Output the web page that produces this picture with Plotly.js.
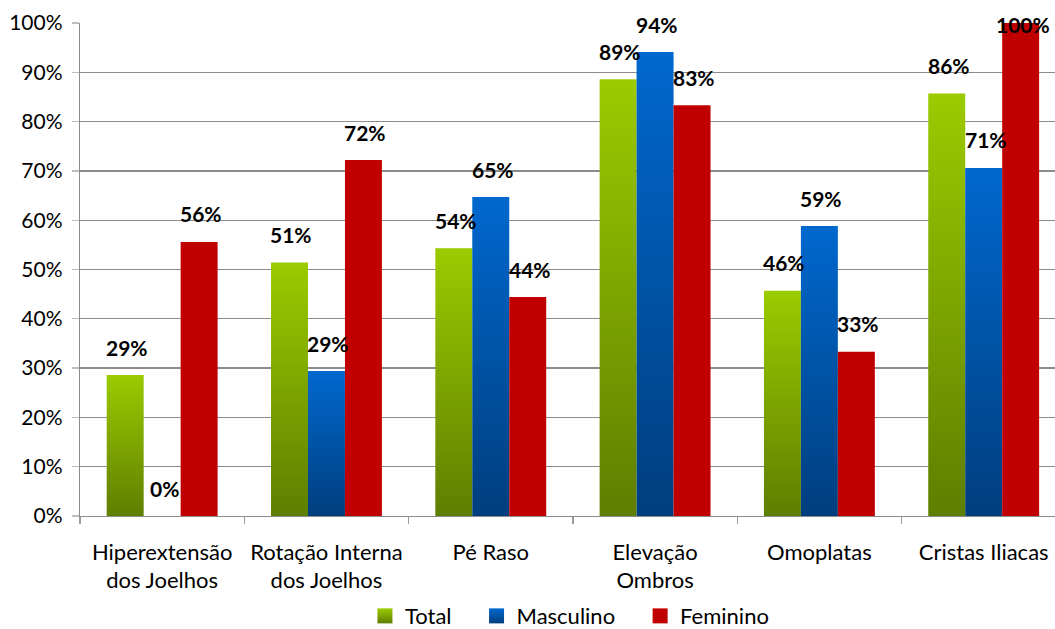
<!DOCTYPE html>
<html>
<head>
<meta charset="utf-8">
<script src="https://cdn.plot.ly/plotly-3.0.1.min.js"></script>
<style>html,body{margin:0;padding:0;background:#fff}#chart{width:1055px;height:629px}</style>
</head>
<body>
<div id="chart"></div>
<script>
const categories = ['Hiperextensão dos Joelhos', 'Rotação Interna dos Joelhos', 'Pé Raso', 'Elevação Ombros', 'Omoplatas', 'Cristas Iliacas'];
const tickLabels = ['Hiperextensão<br>dos Joelhos', 'Rotação Interna<br>dos Joelhos', 'Pé Raso', 'Elevação<br>Ombros', 'Omoplatas', 'Cristas Iliacas'];
const seriesNames = ['Total', 'Masculino', 'Feminino'];
const total = [28.6, 51.4, 54.3, 88.6, 45.7, 85.7];
const masculino = [0, 29.4, 64.7, 94.1, 58.8, 70.6];
const feminino = [55.6, 72.2, 44.4, 83.3, 33.3, 100];
const yTicks = [0, 10, 20, 30, 40, 50, 60, 70, 80, 90, 100];

const seriesValues = [total, masculino, feminino];
const baseColors = ['#7FA800', '#0057AD', '#C00000'];
const gradients = [['#9BCB00', '#5E7E00'], ['#0068CE', '#003E7E'], null];

const W = 1055, H = 629;
const margin = {l: 80, r: 0, t: 23, b: 113, pad: 0, autoexpand: false};
const plotW = W - margin.l - margin.r;
const plotH = H - margin.t - margin.b;
const xRange = [-0.5, 5.434];
const bargap = 0.325;
const fontFam = 'Lato, "Open Sans", sans-serif';

const traces = seriesValues.map((vals, i) => ({
  type: 'bar',
  name: seriesNames[i],
  x: categories,
  y: vals,
  marker: {color: baseColors[i], line: {width: 0}},
  hoverinfo: 'none'
}));

const catPx = plotW / (xRange[1] - xRange[0]);
const barPx = catPx * (1 - bargap) / seriesValues.length;
const pxPerUnit = plotH / 100;
const labelLift = 28;
const annotations = [];
seriesValues.forEach((vals, i) => {
  vals.forEach((v, j) => {
    const room = (100 - v) * pxPerUnit + margin.t;
    annotations.push({
      x: categories[j], y: v, xref: 'x', yref: 'y',
      text: Math.round(v) + '%',
      showarrow: false,
      xshift: (i - 1) * barPx + 2,
      yshift: Math.min(labelLift, room - 24),
      yanchor: 'middle', xanchor: 'center',
      font: {family: fontFam, size: 21, color: '#000', weight: 'bold'}
    });
  });
});

const layout = {
  width: W, height: H,
  margin: margin,
  paper_bgcolor: '#fff', plot_bgcolor: '#fff',
  barmode: 'group',
  bargap: bargap, bargroupgap: 0,
  font: {family: fontFam, size: 22, color: '#000'},
  showlegend: true,
  legend: {
    orientation: 'h', x: 0.502, xanchor: 'center', y: -0.203, yanchor: 'middle',
    bgcolor: 'rgba(0,0,0,0)',
    font: {family: fontFam, size: 22, color: '#000'},
    traceorder: 'normal', itemclick: false, itemdoubleclick: false
  },
  xaxis: {
    type: 'category', range: xRange, tickvals: categories, ticktext: tickLabels,
    showline: true, linecolor: '#8C8C8C', linewidth: 1.3,
    ticks: 'outside', tickson: 'boundaries', ticklen: 7, tickcolor: '#9A9A9A', tickwidth: 1.3,
    showgrid: false, zeroline: false, ticklabelstandoff: 16,
    tickfont: {family: fontFam, size: 22, color: '#000'}, fixedrange: true
  },
  yaxis: {
    range: [0, 100], tickvals: yTicks, ticktext: yTicks.map(t => t + '%'),
    showline: true, linecolor: '#8C8C8C', linewidth: 1.3,
    ticks: 'outside', ticklen: 7, tickcolor: '#BDBDBD', tickwidth: 1.3,
    showgrid: true, gridcolor: '#8C8C8C', gridwidth: 1.3, zeroline: false,
    ticklabelstandoff: 5,
    tickfont: {family: fontFam, size: 21, color: '#000'}, fixedrange: true
  },
  annotations: annotations
};

const legendExtraGap = 20;
const legendSymbolScale = 1.25;

function applyStyling(gd) {
  const svg = gd.querySelector('.main-svg');
  const defs = svg.querySelector('defs');
  const ns = 'http://www.w3.org/2000/svg';
  gradients.forEach((g, i) => {
    if (!g) return;
    const id = 'barGrad' + i;
    if (!document.getElementById(id)) {
      const lg = document.createElementNS(ns, 'linearGradient');
      lg.setAttribute('id', id);
      lg.setAttribute('x1', '0'); lg.setAttribute('y1', '0');
      lg.setAttribute('x2', '0'); lg.setAttribute('y2', '1');
      [[0, g[0]], [1, g[1]]].forEach(([o, c]) => {
        const s = document.createElementNS(ns, 'stop');
        s.setAttribute('offset', o);
        s.setAttribute('stop-color', c);
        lg.appendChild(s);
      });
      defs.appendChild(lg);
    }
    const barTraces = gd.querySelectorAll('.barlayer .trace');
    if (barTraces[i]) barTraces[i].querySelectorAll('path').forEach(p => { p.style.fill = 'url(#' + id + ')'; });
    const legTraces = gd.querySelectorAll('.legend .traces');
    if (legTraces[i]) legTraces[i].querySelectorAll('.legendpoints path').forEach(p => { p.style.fill = 'url(#' + id + ')'; });
  });
  // legend: no clipping, slightly bigger squares, wider spacing between entries (kept centred)
  gd.querySelectorAll('.legend [clip-path]').forEach(el => el.removeAttribute('clip-path'));
  const items = gd.querySelectorAll('.legend .traces');
  const n = items.length;
  items.forEach((el, i) => {
    const t = el.getAttribute('transform') || '';
    const m = t.match(/translate\(\s*([-\d.]+)[ ,]+([-\d.]+)\s*\)/);
    if (m) {
      const nx = parseFloat(m[1]) + (i - (n - 1) / 2) * legendExtraGap;
      el.setAttribute('transform', 'translate(' + nx + ',' + m[2] + ')');
    }
    el.querySelectorAll('.legendpoints path').forEach(p => {
      const pt = p.getAttribute('transform') || '';
      p.setAttribute('transform', pt + ' scale(' + legendSymbolScale + ')');
    });
  });
}

Plotly.newPlot('chart', traces, layout, {displayModeBar: false, staticPlot: true}).then(applyStyling);
</script>
</body>
</html>
